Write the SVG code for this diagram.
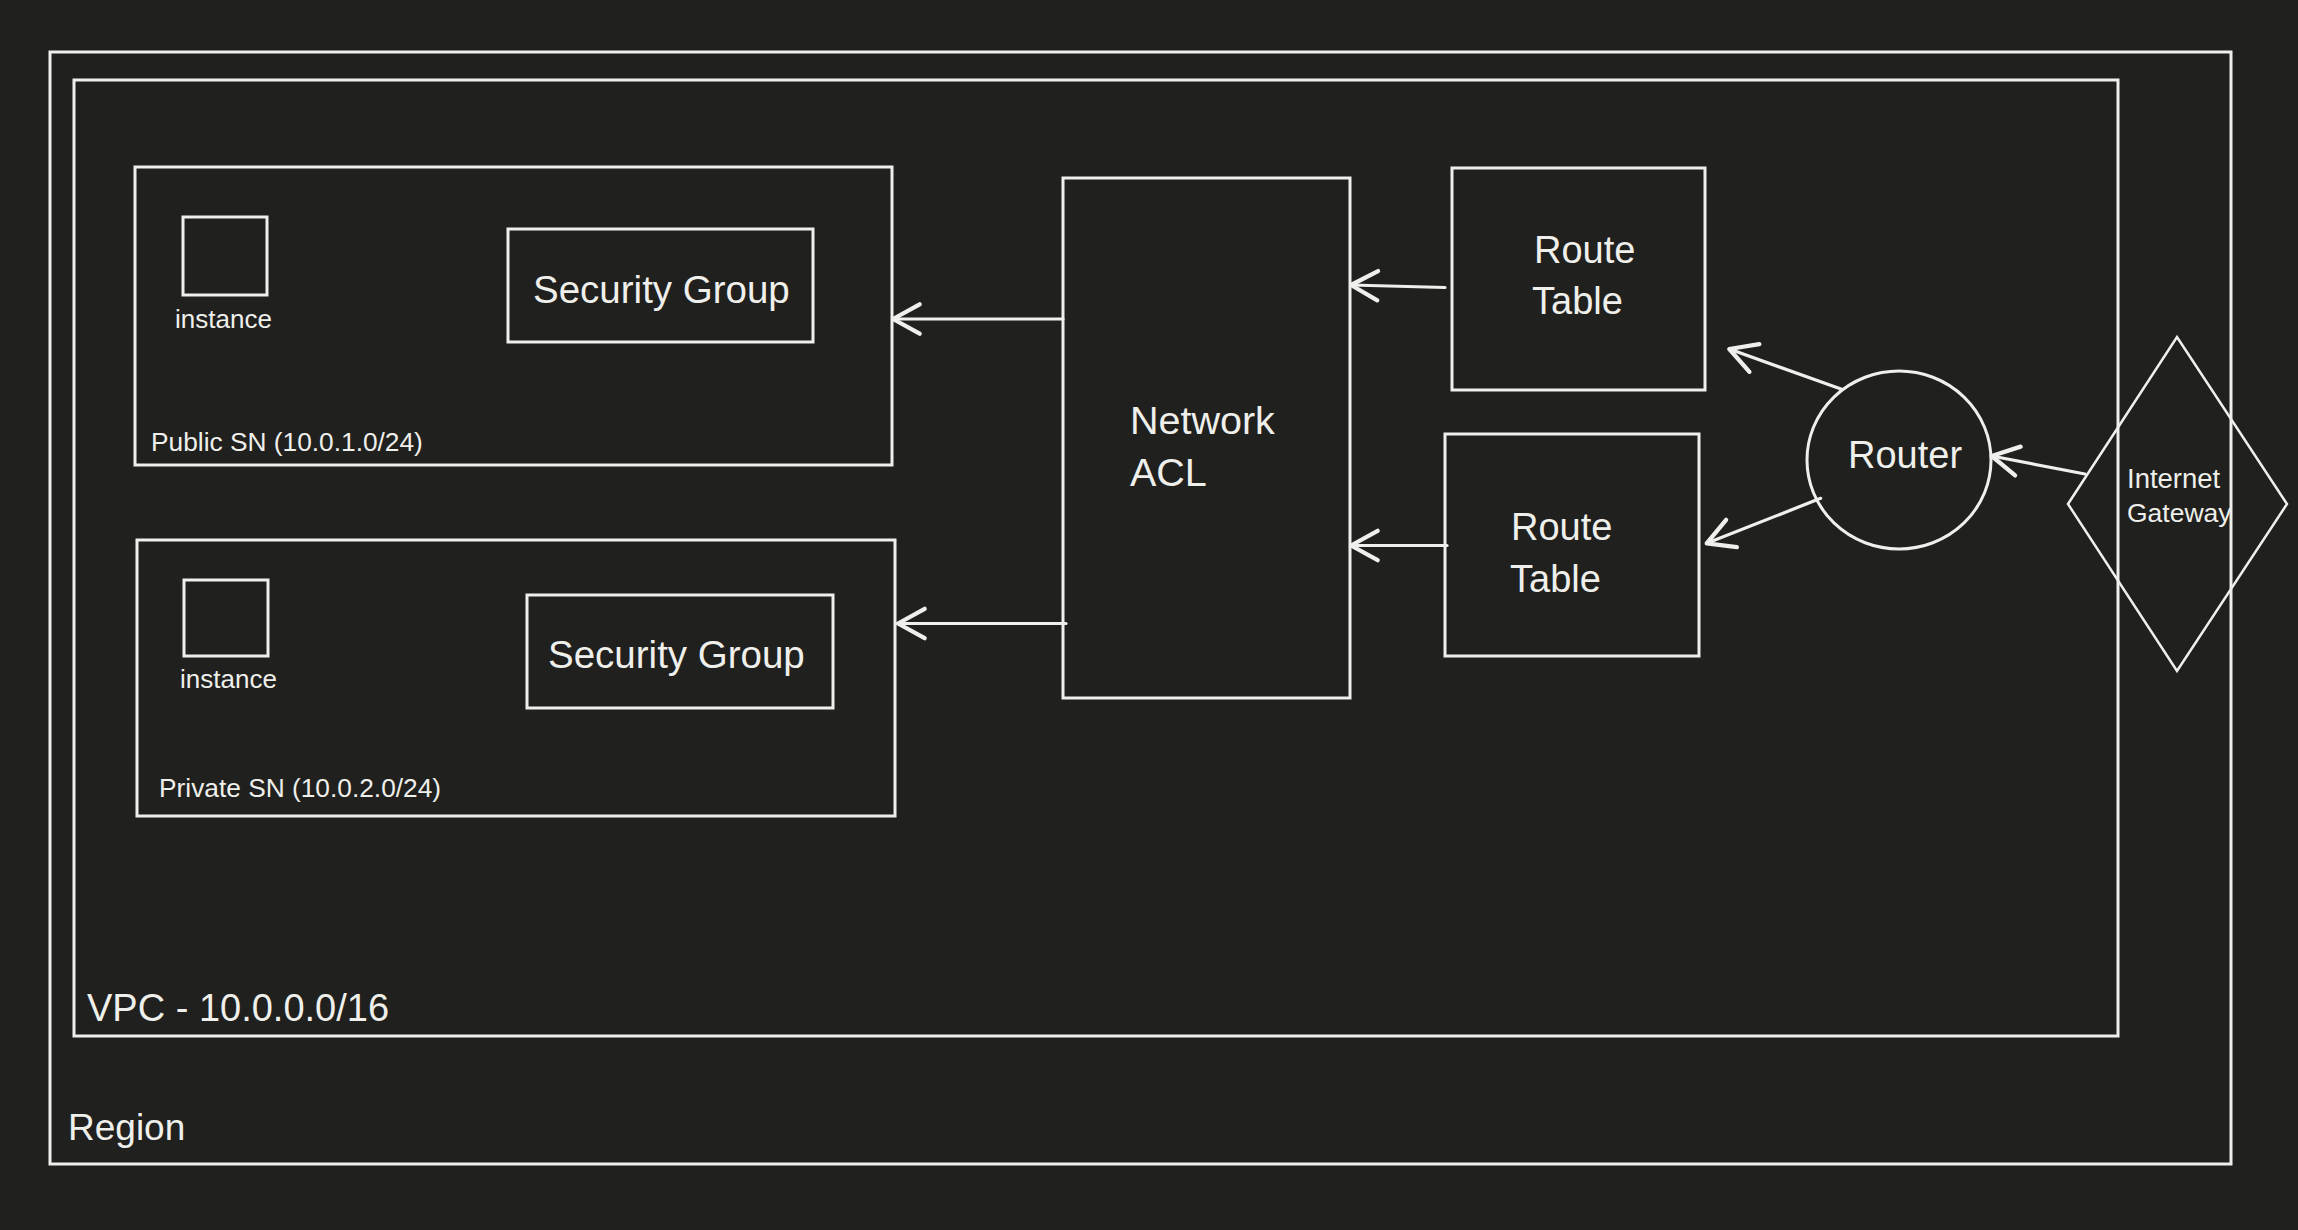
<svg xmlns="http://www.w3.org/2000/svg" width="2298" height="1230" viewBox="0 0 2298 1230">
  <style>
    .box { fill: none; stroke: #efefeb; stroke-width: 3; }
    .thin { fill: none; stroke: #efefeb; stroke-width: 2.5; }
    .conn { fill: none; stroke: #efefeb; stroke-width: 3.2; stroke-linecap: round; }
    text { fill: #efefeb; font-family: "Liberation Sans", Arial, sans-serif; }
    .big { font-size: 38px; }
    .sm { font-size: 26.3px; }
    .igw { font-size: 26.5px; }
  </style>
  <defs>
    <marker id="arrow" markerUnits="userSpaceOnUse" markerWidth="40" markerHeight="40" viewBox="-25 -15 30 30" refX="0" refY="0" orient="auto">
      <path d="M-20,-11 L0,0 L-20,11" fill="none" stroke="#efefeb" stroke-width="3.2" stroke-linecap="round" stroke-linejoin="round"/>
    </marker>
  </defs>
  <rect x="0" y="0" width="2298" height="1230" fill="#20201e"/>

  <g id="region">
    <rect class="box" x="50" y="52" width="2181" height="1112"/>
    <text class="big" x="68" y="1140" style="font-size:37px">Region</text>
  </g>
  <g id="vpc">
    <rect class="box" x="74" y="80" width="2044" height="956"/>
    <text class="big" x="87" y="1021">VPC - 10.0.0.0/16</text>
  </g>

  <g id="public-sn">
    <rect class="box" x="135" y="167" width="757" height="298"/>
    <text class="sm" x="151" y="451">Public SN (10.0.1.0/24)</text>
  </g>
  <g id="public-instance">
    <rect class="box" x="183" y="217" width="84" height="78"/>
    <text x="175" y="328" style="font-size:26px">instance</text>
  </g>
  <g id="public-sg">
    <rect class="box" x="508" y="229" width="305" height="113"/>
    <text class="big" x="533" y="303" style="font-size:38.5px">Security Group</text>
  </g>

  <g id="private-sn">
    <rect class="box" x="137" y="540" width="758" height="276"/>
    <text class="sm" x="159" y="797">Private SN (10.0.2.0/24)</text>
  </g>
  <g id="private-instance">
    <rect class="box" x="184" y="580" width="84" height="76"/>
    <text x="180" y="688" style="font-size:26px">instance</text>
  </g>
  <g id="private-sg">
    <rect class="box" x="527" y="595" width="306" height="113"/>
    <text class="big" x="548" y="668" style="font-size:38.5px">Security Group</text>
  </g>

  <g id="network-acl">
    <rect class="box" x="1063" y="178" width="287" height="520"/>
    <text x="1130" y="434" style="font-size:39.5px">Network</text>
    <text x="1130" y="486" style="font-size:39.5px">ACL</text>
  </g>

  <g id="route-table-1">
    <rect class="box" x="1452" y="168" width="253" height="222"/>
    <text class="big" x="1534" y="263">Route</text>
    <text class="big" x="1532" y="314">Table</text>
  </g>
  <g id="route-table-2">
    <rect class="box" x="1445" y="434" width="254" height="222"/>
    <text class="big" x="1511" y="540">Route</text>
    <text class="big" x="1510" y="592">Table</text>
  </g>

  <g id="router">
    <ellipse class="box" cx="1899" cy="460" rx="92" ry="89"/>
    <text class="big" x="1848" y="468">Router</text>
  </g>

  <g id="internet-gateway">
    <polygon class="thin" points="2068,504 2177,337 2287,504 2177,671"/>
    <text class="igw" x="2127" y="488" style="font-size:27.5px">Internet</text>
    <text class="igw" x="2127" y="522">Gateway</text>
  </g>

  <g id="connectors">
    <path class="conn" d="M1063,319 L893,319" marker-end="url(#arrow)"/>
    <path class="conn" d="M1066,623.5 L898,623.5" marker-end="url(#arrow)"/>
    <path class="conn" d="M1445,287.5 L1351,285" marker-end="url(#arrow)"/>
    <path class="conn" d="M1447,545.5 L1351,545.5" marker-end="url(#arrow)"/>
    <path class="conn" d="M1841.7,389.3 L1729.3,349" marker-end="url(#arrow)"/>
    <path class="conn" d="M1820.7,498.3 L1706.7,543.3" marker-end="url(#arrow)"/>
    <path class="conn" d="M2085,474 L1991.7,456" marker-end="url(#arrow)"/>
  </g>
</svg>
